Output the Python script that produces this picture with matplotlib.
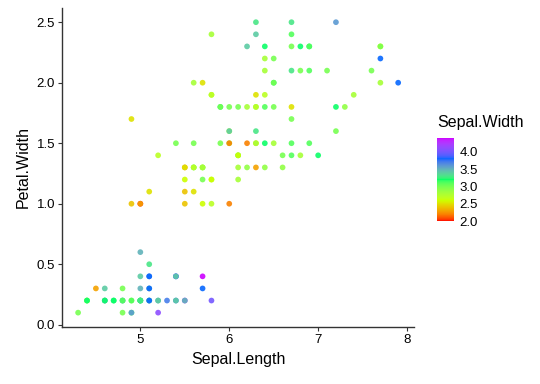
import numpy as np
import matplotlib
matplotlib.use("Agg")
import matplotlib.pyplot as plt
from matplotlib.colors import ListedColormap, to_rgb

# iris: Sepal.Length, Sepal.Width, Petal.Width
sepal_length = [
    5.1, 4.9, 4.7, 4.6, 5.0, 5.4, 4.6, 5.0, 4.4, 4.9, 5.4, 4.8, 4.8, 4.3, 5.8,
    5.7, 5.4, 5.1, 5.7, 5.1, 5.4, 5.1, 4.6, 5.1, 4.8, 5.0, 5.0, 5.2, 5.2, 4.7,
    4.8, 5.4, 5.2, 5.5, 4.9, 5.0, 5.5, 4.9, 4.4, 5.1, 5.0, 4.5, 4.4, 5.0, 5.1,
    4.8, 5.1, 4.6, 5.3, 5.0, 7.0, 6.4, 6.9, 5.5, 6.5, 5.7, 6.3, 4.9, 6.6, 5.2,
    5.0, 5.9, 6.0, 6.1, 5.6, 6.7, 5.6, 5.8, 6.2, 5.6, 5.9, 6.1, 6.3, 6.1, 6.4,
    6.6, 6.8, 6.7, 6.0, 5.7, 5.5, 5.5, 5.8, 6.0, 5.4, 6.0, 6.7, 6.3, 5.6, 5.5,
    5.5, 6.1, 5.8, 5.0, 5.6, 5.7, 5.7, 6.2, 5.1, 5.7, 6.3, 5.8, 7.1, 6.3, 6.5,
    7.6, 4.9, 7.3, 6.7, 7.2, 6.5, 6.4, 6.8, 5.7, 5.8, 6.4, 6.5, 7.7, 7.7, 6.0,
    6.9, 5.6, 7.7, 6.3, 6.7, 7.2, 6.2, 6.1, 6.4, 7.2, 7.4, 7.9, 6.4, 6.3, 6.1,
    7.7, 6.3, 6.4, 6.0, 6.9, 6.7, 6.9, 5.8, 6.8, 6.7, 6.7, 6.3, 6.5, 6.2, 5.9,
]
sepal_width = [
    3.5, 3.0, 3.2, 3.1, 3.6, 3.9, 3.4, 3.4, 2.9, 3.1, 3.7, 3.4, 3.0, 3.0, 4.0,
    4.4, 3.9, 3.5, 3.8, 3.8, 3.4, 3.7, 3.6, 3.3, 3.4, 3.0, 3.4, 3.5, 3.4, 3.2,
    3.1, 3.4, 4.1, 4.2, 3.1, 3.2, 3.5, 3.6, 3.0, 3.4, 3.5, 2.3, 3.2, 3.5, 3.8,
    3.0, 3.8, 3.2, 3.7, 3.3, 3.2, 3.2, 3.1, 2.3, 2.8, 2.8, 3.3, 2.4, 2.9, 2.7,
    2.0, 3.0, 2.2, 2.9, 2.9, 3.1, 3.0, 2.7, 2.2, 2.5, 3.2, 2.8, 2.5, 2.8, 2.9,
    3.0, 2.8, 3.0, 2.9, 2.6, 2.4, 2.4, 2.7, 2.7, 3.0, 3.4, 3.1, 2.3, 3.0, 2.5,
    2.6, 3.0, 2.6, 2.3, 2.7, 3.0, 2.9, 2.9, 2.5, 2.8, 3.3, 2.7, 3.0, 2.9, 3.0,
    3.0, 2.5, 2.9, 2.5, 3.6, 3.2, 2.7, 3.0, 2.5, 2.8, 3.2, 3.0, 3.8, 2.6, 2.2,
    3.2, 2.8, 2.8, 2.7, 3.3, 3.2, 2.8, 3.0, 2.8, 3.0, 2.8, 3.8, 2.8, 2.8, 2.6,
    3.0, 3.4, 3.1, 3.0, 3.1, 3.1, 3.1, 2.7, 3.2, 3.3, 3.0, 2.5, 3.0, 3.4, 3.0,
]
petal_width = [
    0.2, 0.2, 0.2, 0.2, 0.2, 0.4, 0.3, 0.2, 0.2, 0.1, 0.2, 0.2, 0.1, 0.1, 0.2,
    0.4, 0.4, 0.3, 0.3, 0.3, 0.2, 0.4, 0.2, 0.5, 0.2, 0.2, 0.4, 0.2, 0.2, 0.2,
    0.2, 0.4, 0.1, 0.2, 0.2, 0.2, 0.2, 0.1, 0.2, 0.2, 0.3, 0.3, 0.2, 0.6, 0.4,
    0.3, 0.2, 0.2, 0.2, 0.2, 1.4, 1.5, 1.5, 1.3, 1.5, 1.3, 1.6, 1.0, 1.3, 1.4,
    1.0, 1.5, 1.0, 1.4, 1.3, 1.4, 1.5, 1.0, 1.5, 1.1, 1.8, 1.3, 1.5, 1.2, 1.3,
    1.4, 1.4, 1.7, 1.5, 1.0, 1.1, 1.0, 1.2, 1.6, 1.5, 1.6, 1.5, 1.3, 1.3, 1.3,
    1.2, 1.4, 1.2, 1.0, 1.3, 1.2, 1.3, 1.3, 1.1, 1.3, 2.5, 1.9, 2.1, 1.8, 2.2,
    2.1, 1.7, 1.8, 1.8, 2.5, 2.0, 1.9, 2.1, 2.0, 2.4, 2.3, 1.8, 2.2, 2.3, 1.5,
    2.3, 2.0, 2.0, 1.8, 2.1, 1.8, 1.8, 1.8, 2.1, 1.6, 1.9, 2.0, 2.2, 1.5, 1.4,
    2.3, 2.4, 1.8, 1.8, 2.1, 2.4, 2.3, 1.9, 2.3, 2.5, 2.3, 1.9, 2.0, 2.3, 1.8,
]

rainbow5 = ["#FF0000", "#CCFF00", "#00FF66", "#0066FF", "#CC00FF"]
cbar_ticks = [2.0, 2.5, 3.0, 3.5, 4.0]


# ggplot gradientn blends its colours in Lab space, not RGB
M = np.array([[0.4124, 0.3576, 0.1805],
              [0.2126, 0.7152, 0.0722],
              [0.0193, 0.1192, 0.9505]])
WHITE = np.array([0.95047, 1.0, 1.08883])


def rgb_to_lab(rgb):
    c = np.asarray(rgb, dtype=float)
    lin = np.where(c <= 0.04045, c / 12.92, ((c + 0.055) / 1.055) ** 2.4)
    xyz = lin @ M.T / WHITE
    f = np.where(xyz > (6 / 29) ** 3, np.cbrt(xyz), xyz / (3 * (6 / 29) ** 2) + 4 / 29)
    return np.stack([116 * f[..., 1] - 16,
                     500 * (f[..., 0] - f[..., 1]),
                     200 * (f[..., 1] - f[..., 2])], axis=-1)


def lab_to_rgb(lab):
    L, a, b = lab[..., 0], lab[..., 1], lab[..., 2]
    fy = (L + 16) / 116
    f = np.stack([fy + a / 500, fy, fy - b / 200], axis=-1)
    xyz = np.where(f > 6 / 29, f ** 3, 3 * (6 / 29) ** 2 * (f - 4 / 29)) * WHITE
    lin = xyz @ np.linalg.inv(M).T
    lin = np.clip(lin, 0, 1)
    c = np.where(lin <= 0.0031308, 12.92 * lin, 1.055 * lin ** (1 / 2.4) - 0.055)
    return np.clip(c, 0, 1)


labs = rgb_to_lab([to_rgb(c) for c in rainbow5])
pos = np.linspace(0, 1, len(rainbow5))
t = np.linspace(0, 1, 256)
lab_t = np.stack([np.interp(t, pos, labs[:, k]) for k in range(3)], axis=-1)
cmap = ListedColormap(lab_to_rgb(lab_t))

plt.rcParams['font.family'] = ['Liberation Sans', 'DejaVu Sans']

fig = plt.figure(figsize=(5.4, 3.84), dpi=100)
ax = fig.add_axes([0.115, 0.148, 0.652, 0.832])

sc = ax.scatter(sepal_length, petal_width, c=sepal_width, cmap=cmap,
                vmin=min(sepal_width), vmax=max(sepal_width),
                s=17, alpha=0.9, linewidths=0)

xmin, xmax = min(sepal_length), max(sepal_length)
ymin, ymax = min(petal_width), max(petal_width)
dx = (xmax - xmin) * 0.05
dy = (ymax - ymin) * 0.05
ax.set_xlim(xmin - dx, xmax + dx)
ax.set_ylim(ymin - dy, ymax + dy)
ax.set_xticks([5, 6, 7, 8])
ax.set_yticks([0.0, 0.5, 1.0, 1.5, 2.0, 2.5])
ax.set_yticklabels(["0.0", "0.5", "1.0", "1.5", "2.0", "2.5"])

for side in ["top", "right"]:
    ax.spines[side].set_visible(False)
for side in ["left", "bottom"]:
    ax.spines[side].set_color("#333333")
    ax.spines[side].set_linewidth(1.0)
ax.tick_params(length=3, width=0.8, color="#333333", labelsize=9.5,
               labelcolor="black", pad=2)
ax.set_xlabel("Sepal.Length", fontsize=11.5, labelpad=4)
ax.set_ylabel("Petal.Width", fontsize=11.5, labelpad=4)

cax = fig.add_axes([437 / 540, 1 - 221 / 384, 17 / 540, 83 / 384])
cb = fig.colorbar(sc, cax=cax, ticks=cbar_ticks)
cb.solids.set_alpha(1)
cb.outline.set_visible(False)
cb.ax.tick_params(length=0, labelsize=9.5, pad=4)
cb.ax.set_yticklabels(["2.0", "2.5", "3.0", "3.5", "4.0"])
fig.text(437 / 540, 1 - 122 / 384, "Sepal.Width", fontsize=11.5,
         va="center", ha="left")

fig.savefig("out.png", dpi=100)
